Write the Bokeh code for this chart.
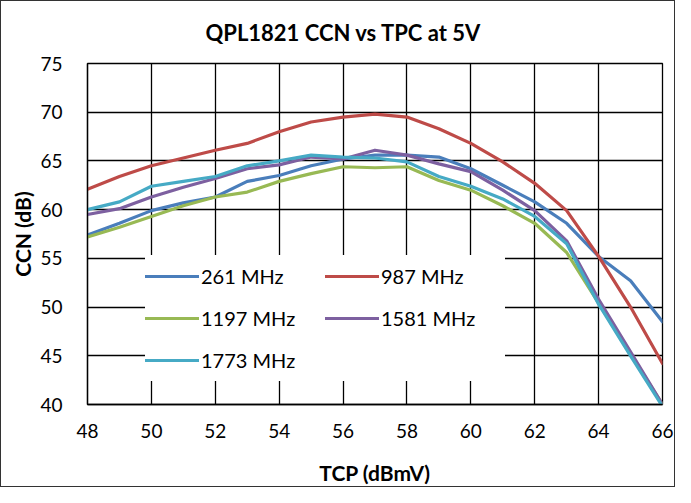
from bokeh.plotting import figure
from bokeh.models import Range1d, FixedTicker, Legend, LegendItem
from bokeh.embed import file_html
from bokeh.resources import INLINE

tcp = [48, 49, 50, 51, 52, 53, 54, 55, 56, 57, 58, 59, 60, 61, 62, 63, 64, 65, 66]

ccn_261 = [57.4, 58.6, 59.9, 60.7, 61.3, 62.9, 63.5, 64.5, 65.2, 65.6, 65.6, 65.4, 64.2, 62.5, 60.8, 58.6, 55.2, 52.7, 48.5]
ccn_987 = [62.1, 63.4, 64.5, 65.3, 66.1, 66.8, 68.0, 69.0, 69.5, 69.8, 69.5, 68.3, 66.8, 64.9, 62.7, 59.9, 55.2, 50.0, 44.2]
ccn_1197 = [57.2, 58.2, 59.3, 60.4, 61.3, 61.8, 62.9, 63.7, 64.4, 64.3, 64.4, 63.0, 62.0, 60.4, 58.6, 55.6, 50.4, 45.2, 40.0]
ccn_1581 = [59.5, 60.1, 61.3, 62.3, 63.2, 64.2, 64.6, 65.4, 65.2, 66.1, 65.6, 64.7, 63.9, 62.0, 59.9, 56.8, 50.8, 45.4, 40.0]
ccn_1773 = [60.0, 60.8, 62.4, 62.9, 63.4, 64.5, 65.0, 65.6, 65.4, 65.3, 64.9, 63.4, 62.4, 61.1, 59.3, 56.5, 50.3, 45.0, 39.8]

series_names = ["261 MHz", "987 MHz", "1197 MHz", "1581 MHz", "1773 MHz"]
series_values = [ccn_261, ccn_987, ccn_1197, ccn_1581, ccn_1773]
series_colors = ["#4A7EBB", "#BE4B48", "#98B954", "#7D60A0", "#46AAC5"]

x_ticks = [48, 50, 52, 54, 56, 58, 60, 62, 64, 66]
y_ticks = [40, 45, 50, 55, 60, 65, 70, 75]

title_text = "QPL1821 CCN vs TPC at 5V"

FONT = "Lato"
W, H = 675, 487

p = figure(width=W, height=H, output_backend="svg", toolbar_location=None,
           x_range=Range1d(48, 66), y_range=Range1d(40, 75),
           min_border_left=86, min_border_right=14, min_border_top=62, min_border_bottom=84,
           title=title_text)
p.styles = {"border": "1.5px solid #333333"}

p.title.align = "left"
p.title.offset = 118
p.title.vertical_align = "top"
p.title.standoff = 31
p.title.text_font = FONT
p.title.text_font_size = "22px"
p.title.text_font_style = "bold"
p.title.text_color = "#000000"

p.outline_line_color = "black"
p.outline_line_width = 1.3

for ax in (p.xaxis[0], p.yaxis[0]):
    ax.major_tick_line_color = None
    ax.minor_tick_line_color = None
    ax.major_tick_out = 0
    ax.major_tick_in = 0
    ax.axis_line_color = "black"
    ax.axis_line_width = 1.3
    ax.major_label_text_font = FONT
    ax.major_label_text_font_size = "19px"
    ax.major_label_text_color = "#000000"
    ax.axis_label_text_font = FONT
    ax.axis_label_text_font_size = "21px"
    ax.axis_label_text_font_style = "bold"
    ax.axis_label_text_color = "#000000"

p.xaxis.ticker = FixedTicker(ticks=x_ticks)
p.yaxis.ticker = FixedTicker(ticks=y_ticks)
p.xaxis.axis_label = "TCP (dBmV)"
p.yaxis.axis_label = "CCN (dB)"
p.xaxis.major_label_standoff = 19
p.yaxis.major_label_standoff = 25
p.xaxis.axis_label_standoff = 19
p.yaxis.axis_label_standoff = 2

p.xgrid.ticker = FixedTicker(ticks=x_ticks)
p.ygrid.ticker = FixedTicker(ticks=y_ticks)
for g in (p.xgrid[0], p.ygrid[0]):
    g.grid_line_color = "black"
    g.grid_line_width = 1.3

items = []
for name, vals, col in zip(series_names, series_values, series_colors):
    r = p.line(tcp, vals, line_color=col, line_width=3.2, line_join="round", line_cap="round")
    items.append(LegendItem(label=name, renderers=[r]))

legend = Legend(items=items, location=(58, 23), orientation="horizontal", ncols=2,
                glyph_width=54, glyph_height=42, label_height=42, label_width=124,
                label_standoff=2, spacing=0, padding=1, margin=0,
                label_text_font=FONT, label_text_font_size="20px", label_text_color="#000000",
                background_fill_color="white", background_fill_alpha=1.0,
                border_line_color=None)
p.add_layout(legend, "center")

open("out.html", "w").write(file_html(p, INLINE))
